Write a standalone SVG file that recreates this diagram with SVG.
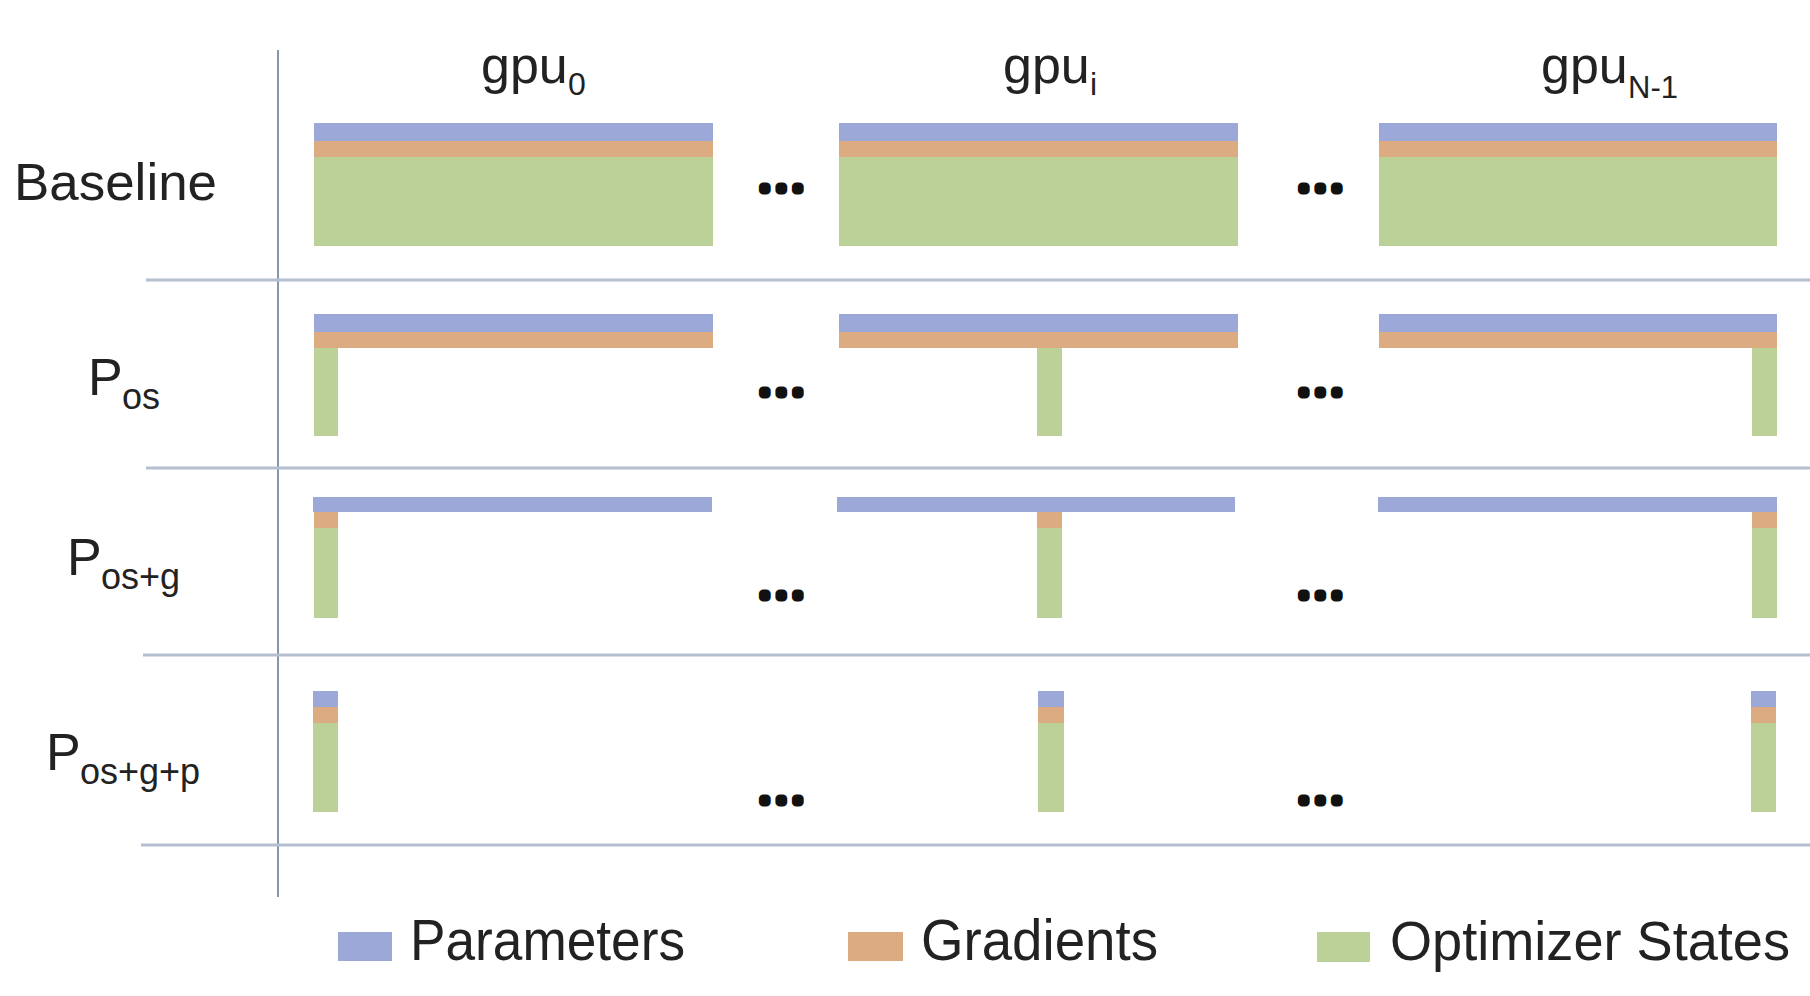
<svg xmlns="http://www.w3.org/2000/svg" width="1810" height="996" viewBox="0 0 1810 996">
<style>
.p{fill:#9ca9d8}
.g{fill:#ddab82}
.o{fill:#bbd197}
.t{font-family:"Liberation Sans",Arial,sans-serif;fill:#222}
.dots{font-family:"Liberation Sans",Arial,sans-serif;font-weight:bold;font-size:20px;fill:#111;stroke:#111;stroke-width:9;stroke-linejoin:round;letter-spacing:11px}
.hl{stroke:#b5bfcf;stroke-width:3;fill:none}
.vl{stroke:#8596b2;stroke-width:2;fill:none}
</style>
<rect width="1810" height="996" fill="#ffffff"/>
<g id="grid">
<line class="vl" x1="278" y1="50" x2="278" y2="897"/>
<line class="hl" x1="146" y1="280" x2="1810" y2="280"/>
<line class="hl" x1="146" y1="468" x2="1810" y2="468"/>
<line class="hl" x1="143" y1="655" x2="1810" y2="655"/>
<line class="hl" x1="141" y1="845" x2="1810" y2="845"/>
</g>
<g id="col-headers" class="t">
<text x="481" y="83" font-size="52">gpu<tspan x="568" y="95" font-size="32">0</tspan></text>
<text x="1003" y="83" font-size="52">gpu<tspan x="1090" y="95" font-size="32">i</tspan></text>
<text x="1541" y="83" font-size="52">gpu<tspan x="1628" y="98" font-size="31">N-1</tspan></text>
</g>
<g id="row-labels" class="t">
<text x="14" y="200" font-size="52" textLength="203" lengthAdjust="spacingAndGlyphs">Baseline</text>
<text x="88" y="395" font-size="52">P<tspan x="122" y="409" font-size="36">os</tspan></text>
<text x="67" y="575" font-size="52">P<tspan x="101" y="589" font-size="36">os+g</tspan></text>
<text x="46" y="770" font-size="52">P<tspan x="80" y="784" font-size="36">os+g+p</tspan></text>
</g>
<g id="row-baseline">
<rect class="p" x="314" y="123" width="399" height="18"/>
<rect class="g" x="314" y="141" width="399" height="16"/>
<rect class="o" x="314" y="157" width="399" height="89"/>
<rect class="p" x="839" y="123" width="399" height="18"/>
<rect class="g" x="839" y="141" width="399" height="16"/>
<rect class="o" x="839" y="157" width="399" height="89"/>
<rect class="p" x="1379" y="123" width="398" height="18"/>
<rect class="g" x="1379" y="141" width="398" height="16"/>
<rect class="o" x="1379" y="157" width="398" height="89"/>
<text class="dots" x="762" y="190">...</text>
<text class="dots" x="1301" y="190">...</text>
</g>
<g id="row-pos">
<rect class="p" x="314" y="314" width="399" height="18"/>
<rect class="g" x="314" y="332" width="399" height="16"/>
<rect class="o" x="314" y="348" width="24" height="88"/>
<rect class="p" x="839" y="314" width="399" height="18"/>
<rect class="g" x="839" y="332" width="399" height="16"/>
<rect class="o" x="1037" y="348" width="25" height="88"/>
<rect class="p" x="1379" y="314" width="398" height="18"/>
<rect class="g" x="1379" y="332" width="398" height="16"/>
<rect class="o" x="1752" y="348" width="25" height="88"/>
<text class="dots" x="762" y="394">...</text>
<text class="dots" x="1301" y="394">...</text>
</g>
<g id="row-pos-g">
<rect class="p" x="313" y="497" width="399" height="15"/>
<rect class="g" x="314" y="512" width="24" height="16"/>
<rect class="o" x="314" y="528" width="24" height="90"/>
<rect class="p" x="837" y="497" width="398" height="15"/>
<rect class="g" x="1037" y="512" width="25" height="16"/>
<rect class="o" x="1037" y="528" width="25" height="90"/>
<rect class="p" x="1378" y="497" width="399" height="15"/>
<rect class="g" x="1752" y="512" width="25" height="16"/>
<rect class="o" x="1752" y="528" width="25" height="90"/>
<text class="dots" x="762" y="597">...</text>
<text class="dots" x="1301" y="597">...</text>
</g>
<g id="row-pos-g-p">
<rect class="p" x="313" y="691" width="25" height="16"/>
<rect class="g" x="313" y="707" width="25" height="16"/>
<rect class="o" x="313" y="723" width="25" height="89"/>
<rect class="p" x="1038" y="691" width="26" height="16"/>
<rect class="g" x="1038" y="707" width="26" height="16"/>
<rect class="o" x="1038" y="723" width="26" height="89"/>
<rect class="p" x="1751" y="691" width="25" height="16"/>
<rect class="g" x="1751" y="707" width="25" height="16"/>
<rect class="o" x="1751" y="723" width="25" height="89"/>
<text class="dots" x="762" y="802">...</text>
<text class="dots" x="1301" y="802">...</text>
</g>
<g id="legend" class="t">
<rect class="p" x="338" y="932" width="54" height="29"/>
<text x="410" y="960" font-size="58" textLength="275" lengthAdjust="spacingAndGlyphs">Parameters</text>
<rect class="g" x="848" y="932" width="55" height="29"/>
<text x="921" y="960" font-size="58" textLength="237" lengthAdjust="spacingAndGlyphs">Gradients</text>
<rect class="o" x="1317" y="932" width="53" height="30"/>
<text x="1390" y="960" font-size="56" textLength="400" lengthAdjust="spacingAndGlyphs">Optimizer States</text>
</g>
</svg>
